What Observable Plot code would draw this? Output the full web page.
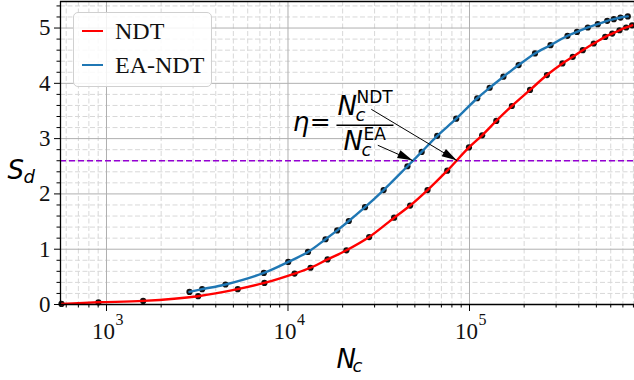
<!DOCTYPE html>
<html>
<head>
<meta charset="utf-8">
<script src="https://cdn.jsdelivr.net/npm/d3@7"></script>
<script src="https://cdn.jsdelivr.net/npm/@observablehq/plot@0.6"></script>
<style>
  html, body { margin: 0; padding: 0; background: white; }
  #wrap { position: relative; width: 634px; height: 380px; }
  #legend {
    position: absolute; left: 73px; top: 12px; width: 137px; height: 73px;
    border: 1px solid #d0d0d0; border-radius: 5px; background: rgba(255,255,255,0.85);
    font-family: "Liberation Serif", serif; font-size: 24px; color: #111;
  }
  .row { position: absolute; left: 0; height: 30px; display: flex; align-items: center; }
  .sw { display: inline-block; width: 21px; height: 0; border-top: 2.5px solid; margin-left: 8px; margin-right: 12px; }
</style>
</head>
<body>
<div id="wrap">
  <div id="chart"></div>
  <div id="legend">
    <div class="row" style="top:3px"><span class="sw" style="border-color:#ff0000"></span>NDT</div>
    <div class="row" style="top:37px"><span class="sw" style="border-color:#1f77b4"></span>EA-NDT</div>
  </div>
</div>
<script>
// ---- data ----
const ndtN = [565, 903, 1592, 3199, 5285, 7413, 10870, 13310, 16510, 20990, 28000, 38450, 47100, 58700, 75400, 99300, 117400, 140500, 171100, 215500, 267000, 325000, 370600, 420700, 483800, 559400, 611500, 670500, 729700, 787000];
const ndtS = [0.01, 0.04, 0.065, 0.15, 0.277, 0.39, 0.56, 0.665, 0.815, 0.98, 1.22, 1.57, 1.79, 2.07, 2.42, 2.84, 3.06, 3.32, 3.59, 3.88, 4.15, 4.36, 4.48, 4.60, 4.72, 4.84, 4.90, 4.96, 5.01, 5.05];
const eaN = [2865, 3365, 4525, 7362, 10030, 12890, 16100, 18670, 21630, 26560, 33640, 45500, 54500, 66400, 84500, 110300, 129100, 153800, 186500, 229500, 279400, 346700, 391000, 448500, 509000, 573800, 624000, 679000, 745000];
const eaS = [0.228, 0.277, 0.362, 0.571, 0.77, 0.95, 1.18, 1.34, 1.51, 1.76, 2.07, 2.50, 2.76, 3.05, 3.36, 3.73, 3.92, 4.12, 4.33, 4.54, 4.69, 4.86, 4.93, 5.01, 5.07, 5.13, 5.16, 5.19, 5.21];
const threshold = 2.6;
const xDomain = [558, 811000];
const yDomain = [0, 5.48];
const majorX = [1e3, 1e4, 1e5];
const minorX = [];
for (let e = 2; e <= 5; e++) for (let m = 2; m <= 9; m++) { const v = m * 10 ** e; if (v > xDomain[0] && v < xDomain[1]) minorX.push(v); }
const majorY = [0, 1, 2, 3, 4, 5];
const minorY = d3.range(1, 28).map(i => +(i * 0.2).toFixed(1)).filter(v => Math.abs(v - Math.round(v)) > 1e-6);
// annotation: arrows from the fraction to the threshold crossings
const crossNDT = 85500, crossEA = 48800;
const arrows = [
  {x1: 28770, y1: 3.53, x2: crossNDT, y2: threshold},
  {x1: 31240, y1: 2.88, x2: crossEA, y2: threshold}
];

const ndt = ndtN.map((n, i) => ({n, s: ndtS[i]}));
const ea = eaN.map((n, i) => ({n, s: eaS[i]}));

const serif = "Liberation Serif, Times New Roman, serif";
const sans = "DejaVu Sans, sans-serif";

function arrowHeads(index, scales) {
  const g = d3.create("svg:g");
  for (const a of arrows) {
    const x1 = scales.x(a.x1), y1 = scales.y(a.y1), x2 = scales.x(a.x2), y2 = scales.y(a.y2);
    const ang = Math.atan2(y2 - y1, x2 - x1);
    const L = 15, W = 4.2;
    const bx = x2 - L * Math.cos(ang), by = y2 - L * Math.sin(ang);
    const px = -Math.sin(ang) * W, py = Math.cos(ang) * W;
    g.append("path").attr("d", `M${x2},${y2}L${bx + px},${by + py}L${bx - px},${by - py}Z`).attr("fill", "black");
  }
  return g.node();
}

const chart = Plot.plot({
  width: 634, height: 380,
  marginLeft: 60, marginRight: 0, marginTop: 1, marginBottom: 76,
  x: {type: "log", domain: xDomain},
  y: {domain: yDomain},
  style: {background: "white", overflow: "visible"},
  marks: [
    Plot.gridX(minorX, {stroke: "#d8d8d8", strokeOpacity: 1, strokeDasharray: "5,2.5"}),
    Plot.gridY(minorY, {stroke: "#d8d8d8", strokeOpacity: 1, strokeDasharray: "5,2.5"}),
    Plot.gridX(majorX, {stroke: "#b0b0b0", strokeOpacity: 1}),
    Plot.gridY(majorY, {stroke: "#b0b0b0", strokeOpacity: 1}),
    Plot.ruleY([threshold], {stroke: "#9400d3", strokeWidth: 1.5, strokeDasharray: "6,3"}),
    Plot.dot(ndt, {x: "n", y: "s", r: 3.1, fill: "#111", stroke: "none"}),
    Plot.dot(ea, {x: "n", y: "s", r: 3.1, fill: "#111", stroke: "none"}),
    Plot.line(ndt, {x: "n", y: "s", stroke: "#ff0000", strokeWidth: 2.4, curve: "catmull-rom"}),
    Plot.line(ea, {x: "n", y: "s", stroke: "#1f77b4", strokeWidth: 2.4, curve: "catmull-rom"}),
    // arrows
    Plot.link(arrows, {x1: "x1", y1: "y1", x2: "x2", y2: "y2", stroke: "black", strokeWidth: 1}),
    arrowHeads,
    // fraction annotation
    Plot.text([{x: 11800, y: 3.28}], {x: "x", y: "y", text: () => "η", fontSize: 26, fontStyle: "italic", fontFamily: sans, fill: "black"}),
    Plot.text([{x: 15050, y: 3.30}], {x: "x", y: "y", text: () => "=", fontSize: 25, fontFamily: sans, fill: "black"}),
    Plot.link([{x1: 18490, x2: 38110, y: 3.24}], {x1: "x1", x2: "x2", y1: "y", y2: "y", stroke: "black", strokeWidth: 1.5}),
    Plot.text([{x: 18750, y: 3.42}], {x: "x", y: "y", text: () => "N", fontSize: 26, fontStyle: "italic", fontFamily: sans, textAnchor: "start", lineAnchor: "bottom", fill: "black"}),
    Plot.text([{x: 23550, y: 3.31}], {x: "x", y: "y", text: () => "c", fontSize: 18, fontStyle: "italic", fontFamily: sans, textAnchor: "start", lineAnchor: "bottom", fill: "black"}),
    Plot.text([{x: 23850, y: 3.64}], {x: "x", y: "y", text: () => "NDT", fontSize: 17, fontFamily: sans, textAnchor: "start", lineAnchor: "bottom", fill: "black"}),
    Plot.text([{x: 20240, y: 2.79}], {x: "x", y: "y", text: () => "N", fontSize: 26, fontStyle: "italic", fontFamily: sans, textAnchor: "start", lineAnchor: "bottom", fill: "black"}),
    Plot.text([{x: 25400, y: 2.68}], {x: "x", y: "y", text: () => "c", fontSize: 18, fontStyle: "italic", fontFamily: sans, textAnchor: "start", lineAnchor: "bottom", fill: "black"}),
    Plot.text([{x: 26060, y: 2.97}], {x: "x", y: "y", text: () => "EA", fontSize: 17, fontFamily: sans, textAnchor: "start", lineAnchor: "bottom", fill: "black"}),
    // axes
    Plot.axisY(majorY, {tickSize: 6, tickPadding: 4, fontSize: 23, fontFamily: serif, tickFormat: d => String(d), label: null, stroke: "black", color: "#111"}),
    Plot.axisY(minorY, {tickSize: 3.5, tickFormat: () => "", label: null, stroke: "black"}),
    Plot.axisX(majorX, {tickSize: 7, tickFormat: () => "", label: null, stroke: "black"}),
    Plot.axisX(minorX, {tickSize: 3.5, tickFormat: () => "", label: null, stroke: "black"}),
    Plot.text(majorX, {x: d => d, frameAnchor: "bottom", text: () => "10", dx: -3, dy: 34, lineAnchor: "bottom", textAnchor: "middle", fontSize: 23, fontFamily: serif, fill: "#111"}),
    Plot.text(majorX, {x: d => d, frameAnchor: "bottom", text: d => String(Math.round(Math.log10(d))), dx: 9, dy: 20, lineAnchor: "bottom", textAnchor: "start", fontSize: 16, fontFamily: serif, fill: "#111"}),
    // spines
    Plot.ruleX([xDomain[0]], {stroke: "black", strokeWidth: 1.3}),
    Plot.ruleY([yDomain[0]], {stroke: "black", strokeWidth: 1.3}),
    Plot.ruleY([yDomain[1]], {stroke: "black", strokeWidth: 1.3}),
    // axis labels
    Plot.text([0], {frameAnchor: "left", text: () => "S", dx: -53, dy: 26, lineAnchor: "bottom", textAnchor: "start", fontSize: 26, fontStyle: "italic", fontFamily: sans, fill: "black"}),
    Plot.text([0], {frameAnchor: "left", text: () => "d", dx: -37, dy: 30, lineAnchor: "bottom", textAnchor: "start", fontSize: 18, fontStyle: "italic", fontFamily: sans, fill: "black"}),
    Plot.text([0], {frameAnchor: "bottom", text: () => "N", dx: -11, dy: 63, lineAnchor: "bottom", textAnchor: "start", fontSize: 26, fontStyle: "italic", fontFamily: sans, fill: "black"}),
    Plot.text([0], {frameAnchor: "bottom", text: () => "c", dx: 5, dy: 67, lineAnchor: "bottom", textAnchor: "start", fontSize: 18, fontStyle: "italic", fontFamily: sans, fill: "black"})
  ]
});
document.getElementById("chart").appendChild(chart);
</script>
</body>
</html>
